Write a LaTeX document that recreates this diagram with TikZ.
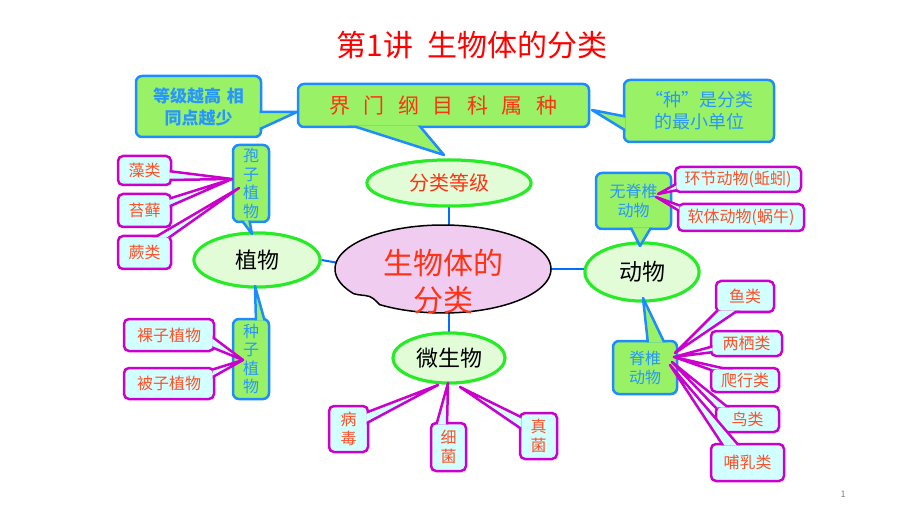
\documentclass[tikz,border=0pt]{standalone}
\usepackage{fontspec}
\setmainfont{Noto Sans CJK SC}
\usetikzlibrary{calc,shapes.geometric}
\definecolor{cGreen}{RGB}{153,242,102}
\definecolor{cBlue}{RGB}{30,140,255}
\definecolor{cMag}{RGB}{204,0,204}
\definecolor{cCyan}{RGB}{210,255,255}
\definecolor{cEllF}{RGB}{226,252,216}
\definecolor{cEllB}{RGB}{40,235,40}
\definecolor{cPink}{RGB}{240,204,240}
\definecolor{cLink}{RGB}{0,110,255}
\definecolor{cRedT}{RGB}{255,50,20}
\definecolor{cOrT}{RGB}{255,80,40}
\definecolor{cBlueT}{RGB}{40,150,255}
\newcommand\calltail[5]{%
  \begin{scope}[even odd rule]
    \clip (-20,-20) rectangle (940,540)
      ($(#2.south west)+(2.6pt,2.6pt)$) rectangle ($(#2.north east)+(-2.6pt,-2.6pt)$);
    \filldraw[#1] #3 -- #5 -- #4 -- cycle;
  \end{scope}}
\newcommand\jsp{\hspace{13.5pt}}
\begin{document}
\begin{tikzpicture}[x=1pt,y=-1pt,
  gbox/.style={draw=cBlue, fill=cGreen, line width=2.5pt, rounded corners=6pt, inner sep=0pt, align=center},
  mbox/.style={draw=cMag, fill=cCyan, line width=2.5pt, rounded corners=5pt, inner sep=0pt, align=center, text=cOrT, font=\fontsize{16}{19}\selectfont},
  gtail/.style={draw=cBlue, fill=cGreen, line width=2.5pt, line join=round},
  mtail/.style={draw=cMag, fill=cCyan, line width=2.5pt, line join=round},
  ell/.style={ellipse, draw=cEllB, fill=cEllF, line width=3pt, inner sep=0pt},
  link/.style={draw=cLink, line width=2pt},
  vtext/.style={text=cBlueT, font=\fontsize{16}{18.5}\selectfont}
]
\useasboundingbox (0,0) rectangle (920,518);
\fill[white] (0,0) rectangle (920,518);

% title and page number
\node[text=red, font=\fontsize{30}{32}\selectfont] (title) at (472,45) {第1讲\hspace{0.45em}生物体的分类};
\node[text=gray, font=\fontsize{9}{10}\selectfont] (pg) at (843,494) {1};

% invisible anchor node for the central blob
\node[ellipse, minimum width=216, minimum height=88, inner sep=0pt] (bio) at (443,269) {};

% ellipses (named, for links)
\node[ell, minimum width=164, minimum height=46, text=cRedT, font=\fontsize{20}{22}\selectfont] (fenlei) at (449,183) {分类等级};
\node[ell, minimum width=126, minimum height=54, font=\fontsize{22}{24}\selectfont] (zhiwu) at (257,260) {植物};
\node[ell, minimum width=114, minimum height=58, font=\fontsize{23}{25}\selectfont] (dongwu) at (642,272) {动物};
\node[ell, minimum width=112, minimum height=50, font=\fontsize{22}{24}\selectfont] (wsw) at (449,358) {微生物};

% links
\draw[link] (fenlei) -- (fenlei |- bio);
\draw[link] (wsw) -- (wsw |- bio);
\draw[link] (zhiwu.east) -- ($(bio.west)+(4,-6)$);
\draw[link] (bio) -- (bio -| dongwu);

% central blob
\path[fill=cPink, draw=black, line width=1.5pt, line join=round]
  plot[domain=-180:126, samples=90] ({443+108*cos(\x)},{269+44*sin(\x)})
  .. controls (375,300) and (372,296) .. (365,295.5)
  .. controls (360,295) and (356,294.5) .. (353.5,293.6)
  -- plot[domain=148:180, samples=12] ({443+108*cos(\x)},{269+44*sin(\x)}) -- cycle;
\node[text=cRedT, align=center, font=\fontsize{30}{37}\selectfont] (biotext) at (443,282) {生物体的\\分类};

% redraw ellipses on top of links
\node[ell, minimum width=164, minimum height=46, text=cRedT, font=\fontsize{20}{22}\selectfont] at (449,183) {分类等级};
\node[ell, minimum width=126, minimum height=54, font=\fontsize{22}{24}\selectfont] at (257,260) {植物};
\node[ell, minimum width=114, minimum height=58, font=\fontsize{23}{25}\selectfont] at (642,272) {动物};
\node[ell, minimum width=112, minimum height=50, font=\fontsize{22}{24}\selectfont] at (449,358) {微生物};

% tip coordinates
\coordinate (t1) at (297,112);
\coordinate (t2) at (444,155);
\coordinate (t3) at (592,110);
\coordinate (t4) at (252,234);
\coordinate (t5) at (255,286);
\coordinate (t6) at (640,246);
\coordinate (t7) at (643,298);
\coordinate (ta) at (232,179);
\coordinate (tb) at (239,188);
\coordinate (tc) at (243,360);
\coordinate (td) at (658,194);
\coordinate (te) at (656,197);
\coordinate (tf) at (675,353);
\coordinate (tg) at (674,357);
\coordinate (th) at (672,362);
\coordinate (ti) at (670,365);
\coordinate (tj) at (438,385);
\coordinate (tk) at (448,383);
\coordinate (tl) at (460,387);

% green callouts
\node[gbox, minimum width=125, minimum height=61, text=cBlueT, font=\bfseries\fontsize{17}{22}\selectfont] (dengji) at (198.5,106.5) {等级越高\hspace{6pt}相\\同点越少};
\calltail{gtail}{dengji}{(255,112)}{(249,134)}{(t1)}
\node[gbox, minimum width=291, minimum height=43, text=cRedT, font=\fontsize{21}{23}\selectfont] (jie) at (443.5,105.5) {界\jsp 门\jsp 纲\jsp 目\jsp 科\jsp 属\jsp 种};
\calltail{gtail}{jie}{(347,124)}{(418,124)}{(t2)}
\node[gbox, minimum width=150, minimum height=62, text=cBlueT, font=\fontsize{18}{22}\selectfont] (zhong) at (699,111) {“种”是分类\\的最小单位};
\calltail{gtail}{zhong}{(628,117)}{(628,132)}{(t3)}
\node[gbox, vtext, minimum width=36, minimum height=77] (baozi) at (251,183.5) {孢\\子\\植\\物};
\calltail{gtail}{baozi}{(240,218)}{(249,218)}{(t4)}
\node[gbox, vtext, minimum width=36, minimum height=80] (zhongzi) at (251,359) {种\\子\\植\\物};
\calltail{gtail}{zhongzi}{(256,322)}{(265,322)}{(t5)}
\node[gbox, vtext, minimum width=75, minimum height=56, font=\fontsize{16}{19}\selectfont] (wuji) at (633.5,201) {无脊椎\\动物};
\calltail{gtail}{wuji}{(630,226)}{(652,226)}{(t6)}
\node[gbox, vtext, minimum width=64, minimum height=53, font=\fontsize{16}{19}\selectfont] (jizhui) at (645,367.5) {脊椎\\动物};
\calltail{gtail}{jizhui}{(648,344)}{(665,344)}{(t7)}

% magenta callouts
\node[mbox, minimum width=53, minimum height=29] (zaolei) at (144.5,170.5) {藻类};
\calltail{mtail}{zaolei}{(168,171)}{(168,180)}{(ta)}
\node[mbox, minimum width=53, minimum height=33] (taixian) at (144.5,210.5) {苔藓};
\calltail{mtail}{taixian}{(168,199)}{(168,207)}{(ta)}
\node[mbox, minimum width=53, minimum height=33] (jue) at (144.5,252.5) {蕨类};
\calltail{mtail}{jue}{(152,239)}{(167,239)}{(tb)}
\node[mbox, minimum width=90, minimum height=32] (luozi) at (169,335) {裸子植物};
\calltail{mtail}{luozi}{(211,336)}{(211,347)}{(tc)}
\node[mbox, minimum width=90, minimum height=31] (beizi) at (169,383.5) {被子植物};
\calltail{mtail}{beizi}{(211,370)}{(211,378)}{(tc)}
\node[mbox, minimum width=126, minimum height=25] (huanjie) at (738,179.5) {环节动物(蚯蚓)};
\calltail{mtail}{huanjie}{(678,183)}{(678,190)}{(td)}
\node[mbox, minimum width=126, minimum height=27] (ruanti) at (741,217.5) {软体动物(蜗牛)};
\calltail{mtail}{ruanti}{(681,206)}{(681,212)}{(te)}
\node[mbox, minimum width=58, minimum height=31] (yu) at (745,296.5) {鱼类};
\calltail{mtail}{yu}{(719,309)}{(740,309)}{(tf)}
\node[mbox, minimum width=71, minimum height=25] (liangqi) at (746.5,343.5) {两栖类};
\calltail{mtail}{liangqi}{(714,346)}{(714,352)}{(tg)}
\node[mbox, minimum width=68, minimum height=24] (paxing) at (745,380) {爬行类};
\calltail{mtail}{paxing}{(714,371)}{(735,371)}{(tg)}
\node[mbox, minimum width=63, minimum height=26] (niao) at (747.5,419) {鸟类};
\calltail{mtail}{niao}{(717,409)}{(730,409)}{(th)}
\node[mbox, minimum width=73, minimum height=37] (buru) at (747.5,462.5) {哺乳类};
\calltail{mtail}{buru}{(724,447)}{(740,447)}{(ti)}
\node[mbox, minimum width=39, minimum height=46, font=\fontsize{16}{19}\selectfont] (bingdu) at (348.5,429) {病\\毒};
\calltail{mtail}{bingdu}{(365,413)}{(365,424)}{(tj)}
\node[mbox, minimum width=35, minimum height=48, font=\fontsize{16}{19}\selectfont] (xijun) at (448.5,447) {细\\菌};
\calltail{mtail}{xijun}{(436,426)}{(447,426)}{(tk)}
\node[mbox, minimum width=37, minimum height=46, font=\fontsize{16}{19}\selectfont] (zhenjun) at (538.5,436) {真\\菌};
\calltail{mtail}{zhenjun}{(523,418)}{(523,430)}{(tl)}
\end{tikzpicture}
\end{document}
